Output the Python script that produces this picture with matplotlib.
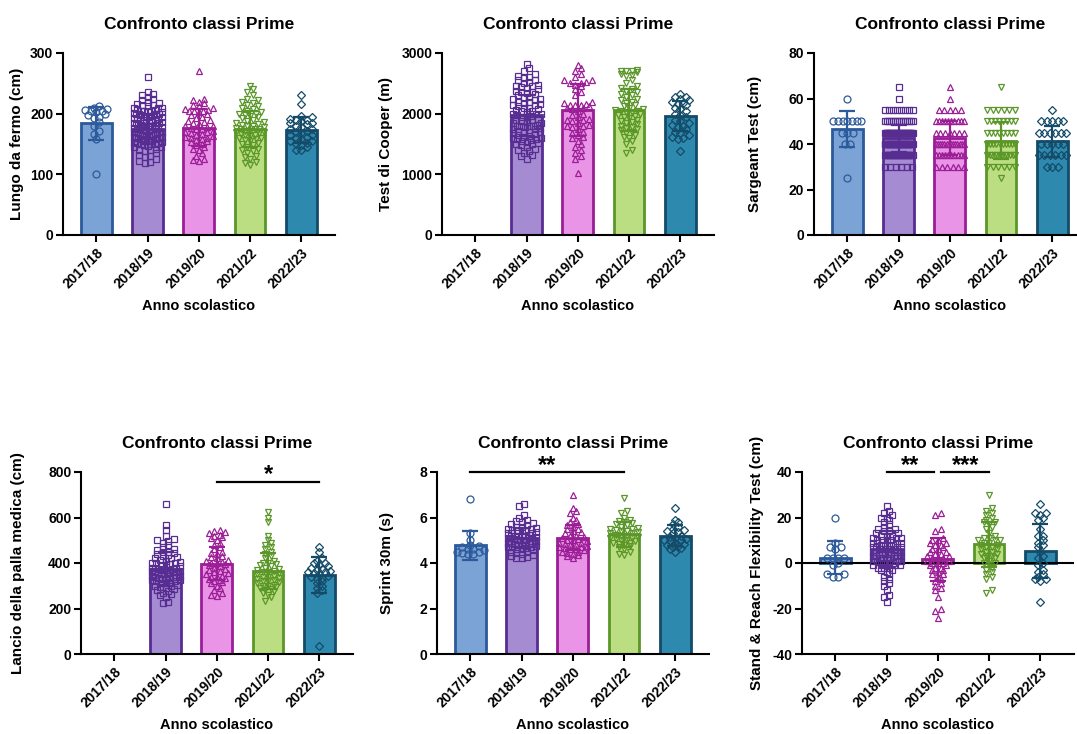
import numpy as np
import matplotlib
matplotlib.use('Agg')
import matplotlib.pyplot as plt

plt.rcParams['font.family'] = ['Liberation Sans', 'DejaVu Sans']
plt.rcParams['font.weight'] = 'bold'
plt.rcParams['axes.labelweight'] = 'bold'
plt.rcParams['axes.titleweight'] = 'bold'
plt.rcParams['axes.unicode_minus'] = False

# ---------------- categories / styles ----------------
years = ['2017/18', '2018/19', '2019/20', '2021/22', '2022/23']
fill_colors = ['#7BA3D6', '#A58CD2', '#E994E6', '#BBDE82', '#2E89AF']
edge_colors = ['#2C5A9A', '#582D91', '#9B1E96', '#5A9628', '#144B69']
markers = ['o', 's', '^', 'v', 'D']
title = 'Confronto classi Prime'
xlabel = 'Anno scolastico'

# ---------------- Panel 1: Lungo da fermo (cm) ----------------
lungo_1718 = [100, 158, 166, 172, 180, 186, 193, 195, 197, 199, 202, 204, 205, 206, 208, 210, 212]
lungo_1819 = [260, 236, 232, 230, 228, 225, 222, 220, 218, 216, 215, 214, 212, 210, 210, 209, 208, 206,
              205, 205, 204, 203, 202, 201, 200, 200, 200, 199, 198, 197, 196, 195, 195, 195, 194, 193,
              192, 191, 190, 190, 190, 189, 188, 187, 186, 185, 185, 185, 184, 183, 182, 181, 180, 180,
              180, 180, 179, 178, 177, 176, 175, 175, 175, 174, 173, 172, 171, 170, 170, 170, 170, 169,
              168, 167, 166, 165, 165, 165, 165, 164, 163, 162, 161, 160, 160, 160, 160, 159, 158, 157,
              156, 155, 155, 155, 154, 153, 152, 151, 150, 150, 150, 148, 147, 145, 145, 142, 140, 140,
              138, 135, 132, 130, 128, 125, 122, 120, 118]
lungo_1920 = [270, 225, 222, 220, 218, 215, 212, 210, 208, 206, 205, 205, 204, 203, 200, 198, 195, 193,
              190, 188, 186, 185, 183, 180, 180, 178, 176, 175, 174, 172, 170, 170, 168, 166, 165, 163,
              162, 160, 160, 158, 156, 155, 153, 150, 148, 145, 142, 140, 135, 130, 125, 123, 122]
lungo_2122 = [245, 240, 235, 230, 225, 222, 220, 218, 215, 212, 210, 208, 205, 203, 200, 200, 198, 196,
              195, 193, 190, 188, 186, 185, 183, 182, 180, 180, 178, 176, 175, 175, 174, 172, 172, 170,
              170, 168, 166, 165, 165, 163, 160, 160, 158, 156, 155, 152, 150, 148, 145, 142, 140, 138,
              135, 130, 128, 125, 120, 118, 115]
lungo_2223 = [230, 216, 196, 195, 192, 190, 190, 188, 185, 185, 183, 180, 178, 175, 175, 172, 170, 168,
              165, 165, 162, 160, 158, 155, 155, 152, 150, 148, 145, 140, 140]
lungo_means = [184, 175, 177, 175, 173]
lungo_sds = [27, 25, 30, 30, 22]

# ---------------- Panel 2: Test di Cooper (m) ----------------
cooper_1718 = []
cooper_1819 = [2820, 2750, 2700, 2650, 2620, 2600, 2580, 2560, 2550, 2520, 2500, 2480, 2460, 2450, 2440,
               2420, 2400, 2380, 2360, 2350, 2340, 2320, 2300, 2280, 2260, 2250, 2240, 2220, 2200, 2200,
               2180, 2160, 2150, 2140, 2120, 2100, 2100, 2080, 2060, 2050, 2040, 2020, 2000, 2000, 1990,
               1980, 1960, 1950, 1940, 1920, 1900, 1900, 1880, 1860, 1850, 1840, 1820, 1800, 1800, 1800,
               1790, 1780, 1760, 1750, 1740, 1720, 1700, 1700, 1690, 1680, 1660, 1650, 1640, 1620, 1600,
               1600, 1590, 1580, 1560, 1550, 1540, 1520, 1500, 1500, 1480, 1450, 1420, 1400, 1380, 1350,
               1320, 1300, 1250]
cooper_1920 = [2800, 2750, 2700, 2650, 2600, 2550, 2550, 2520, 2500, 2500, 2480, 2450, 2400, 2350, 2300,
               2200, 2180, 2160, 2150, 2150, 2140, 2120, 2100, 2100, 2080, 2050, 2000, 1980, 1950, 1920,
               1900, 1900, 1880, 1850, 1820, 1800, 1800, 1780, 1750, 1700, 1680, 1650, 1620, 1600, 1550,
               1500, 1450, 1400, 1350, 1300, 1250, 1020]
cooper_2122 = [2720, 2710, 2700, 2700, 2690, 2650, 2640, 2620, 2550, 2500, 2450, 2420, 2400, 2380, 2350,
               2320, 2300, 2280, 2250, 2220, 2200, 2180, 2150, 2120, 2100, 2080, 2060, 2050, 2040, 2030,
               2020, 2000, 1980, 1960, 1950, 1930, 1900, 1880, 1860, 1850, 1830, 1800, 1780, 1760, 1750,
               1730, 1700, 1680, 1650, 1620, 1600, 1550, 1500, 1400, 1350]
cooper_2223 = [2330, 2280, 2270, 2250, 2230, 2200, 2180, 2160, 2150, 2100, 2080, 2050, 2000, 1980, 1950,
               1900, 1880, 1850, 1820, 1800, 1780, 1750, 1700, 1680, 1650, 1620, 1600, 1580, 1380]
cooper_means = [None, 1970, 2060, 2060, 1960]
cooper_sds = [None, 330, 430, 350, 250]

# ---------------- Panel 3: Sargeant Test (cm) — discrete levels with counts ----------------
sarg_levels = [25, 30, 35, 40, 45, 50, 55, 60, 65]
sarg_counts_1718 = [1, 0, 0, 2, 3, 7, 0, 1, 0]
sarg_counts_1819 = [0, 6, 25, 35, 30, 15, 8, 1, 1]
sarg_counts_1920 = [0, 6, 10, 14, 7, 10, 5, 1, 1]
sarg_counts_2122 = [1, 6, 12, 10, 8, 8, 6, 0, 1]
sarg_counts_2223 = [0, 3, 6, 5, 6, 5, 1, 0, 0]
sarg_means = [46.5, 42.5, 42.5, 41.5, 41.2]
sarg_sds = [7.8, 6.0, 7.5, 8.2, 6.8]

# ---------------- Panel 4: Lancio della palla medica (cm) ----------------
lancio_1718 = []
lancio_1819 = [660, 565, 545, 520, 505, 500, 495, 490, 480, 470, 460, 455, 450, 450, 445, 440, 435, 430,
               425, 420, 420, 415, 410, 405, 400, 400, 400, 395, 390, 390, 385, 380, 380, 380, 375, 375,
               370, 370, 370, 365, 365, 360, 360, 360, 355, 355, 350, 350, 350, 345, 345, 340, 340, 340,
               335, 335, 330, 330, 325, 325, 320, 320, 315, 310, 310, 305, 300, 300, 295, 290, 285, 280,
               275, 270, 265, 260, 250, 230, 222]
lancio_1920 = [545, 540, 535, 530, 525, 520, 515, 510, 500, 490, 480, 470, 460, 450, 445, 440, 430, 425,
               420, 415, 410, 405, 400, 400, 395, 390, 385, 380, 375, 370, 365, 360, 355, 350, 345, 340,
               340, 335, 330, 325, 320, 315, 310, 300, 290, 280, 270, 260, 255]
lancio_2122 = [625, 600, 580, 520, 500, 490, 480, 470, 460, 450, 440, 430, 420, 410, 400, 400, 395, 390,
               385, 380, 375, 370, 365, 360, 360, 355, 350, 345, 340, 340, 335, 330, 325, 320, 320, 315,
               310, 305, 300, 300, 295, 290, 285, 280, 275, 270, 260, 250, 235]
lancio_2223 = [470, 450, 420, 410, 400, 400, 390, 385, 380, 375, 370, 365, 360, 360, 355, 350, 345, 340,
               335, 330, 320, 310, 300, 290, 280, 270, 35]
lancio_means = [None, 372, 397, 365, 347]
lancio_sds = [None, 75, 73, 80, 81]

# ---------------- Panel 5: Sprint 30m (s) ----------------
sprint_1718 = [6.8, 5.3, 5.0, 4.8, 4.75, 4.7, 4.6, 4.55, 4.5, 4.5, 4.45, 4.4, 4.4, 4.6]
sprint_1819 = [6.6, 6.5, 6.1, 6.0, 5.9, 5.85, 5.8, 5.75, 5.7, 5.65, 5.6, 5.6, 5.55, 5.5, 5.5, 5.45, 5.4,
               5.4, 5.4, 5.35, 5.3, 5.3, 5.3, 5.25, 5.2, 5.2, 5.2, 5.2, 5.15, 5.1, 5.1, 5.1, 5.1, 5.05,
               5.0, 5.0, 5.0, 5.0, 4.95, 4.9, 4.9, 4.9, 4.9, 4.85, 4.8, 4.8, 4.8, 4.75, 4.7, 4.7, 4.7,
               4.65, 4.6, 4.6, 4.55, 4.5, 4.5, 4.45, 4.4, 4.35, 4.3, 4.25, 4.2, 4.2]
sprint_1920 = [7.0, 6.4, 6.3, 6.2, 6.0, 5.9, 5.8, 5.7, 5.65, 5.6, 5.5, 5.5, 5.4, 5.35, 5.3, 5.2, 5.2,
               5.15, 5.1, 5.05, 5.0, 5.0, 4.95, 4.9, 4.9, 4.85, 4.8, 4.8, 4.75, 4.7, 4.7, 4.65, 4.6, 4.6,
               4.55, 4.5, 4.5, 4.45, 4.4, 4.35, 4.3, 4.2]
sprint_2122 = [6.85, 6.3, 6.2, 6.0, 5.9, 5.85, 5.8, 5.75, 5.7, 5.65, 5.6, 5.55, 5.5, 5.5, 5.45, 5.4, 5.4,
               5.35, 5.3, 5.3, 5.25, 5.2, 5.2, 5.15, 5.1, 5.1, 5.05, 5.0, 5.0, 4.95, 4.9, 4.9, 4.85, 4.8,
               4.75, 4.7, 4.6, 4.5, 4.4, 4.35]
sprint_2223 = [6.4, 5.9, 5.8, 5.7, 5.6, 5.5, 5.45, 5.4, 5.35, 5.3, 5.2, 5.15, 5.1, 5.05, 5.0, 5.0, 4.95,
               4.9, 4.85, 4.8, 4.75, 4.7, 4.65, 4.6, 4.5]
sprint_means = [4.78, 5.1, 5.1, 5.27, 5.2]
sprint_sds = [0.63, 0.42, 0.55, 0.55, 0.45]

# ---------------- Panel 6: Stand & Reach Flexibility Test (cm) ----------------
sr_1718 = [20, 9, 7, 7, 6, 2, 2, 2, 2, 0, -1, -5, -5, -6, -6]
sr_1819 = [25, 23, 22, 21, 20, 20, 19, 18, 17, 16, 15, 15, 14, 14, 13, 13, 12, 12, 12, 11, 11, 11, 10,
           10, 10, 10, 9, 9, 9, 9, 8, 8, 8, 8, 7, 7, 7, 7, 6, 6, 6, 6, 6, 5, 5, 5, 5, 5, 4, 4, 4, 4, 4,
           3, 3, 3, 3, 3, 2, 2, 2, 2, 1, 1, 1, 1, 0, 0, 0, 0, -1, -1, -1, -2, -2, -2, -3, -3, -4, -5,
           -6, -7, -8, -9, -10, -12, -14, -15, -17]
sr_1920 = [22, 21, 15, 14, 11, 10, 10, 9, 9, 8, 8, 7, 6, 6, 5, 5, 4, 4, 3, 3, 2, 2, 2, 1, 1, 0, 0, 0,
           -1, -1, -2, -2, -3, -3, -4, -5, -5, -6, -7, -8, -9, -10, -11, -12, -15, -20, -21, -24]
sr_2122 = [30, 24, 23, 22, 21, 20, 19, 18, 18, 17, 16, 15, 13, 12, 11, 11, 10, 10, 10, 9, 9, 8, 8, 7,
           7, 6, 6, 5, 5, 4, 4, 3, 3, 2, 2, 1, 0, 0, -1, -2, -3, -4, -5, -6, -7, -12, -13]
sr_2223 = [26, 22, 22, 21, 20, 19, 15, 12, 12, 10, 9, 8, 7, 5, 3, 2, 0, -1, -3, -4, -5, -6, -7, -7, -8, -17]
sr_means = [2.4, 6.0, 1.6, 8.2, 5.3]
sr_sds = [7.3, 8.0, 9.5, 10.0, 11.7]


def expand(levels, counts):
    return list(np.repeat(levels, counts))


panels = [
    dict(data=[lungo_1718, lungo_1819, lungo_1920, lungo_2122, lungo_2223], means=lungo_means, sds=lungo_sds,
         ylabel='Lungo da fermo (cm)', ylim=(0, 300), yticks=[0, 100, 200, 300],
         pos=(63, 53), ylab_x=-0.145, sig=[]),
    dict(data=[cooper_1718, cooper_1819, cooper_1920, cooper_2122, cooper_2223], means=cooper_means,
         sds=cooper_sds, ylabel='Test di Cooper (m)', ylim=(0, 3000), yticks=[0, 1000, 2000, 3000],
         pos=(442, 53), ylab_x=-0.18, sig=[]),
    dict(data=[expand(sarg_levels, c) for c in [sarg_counts_1718, sarg_counts_1819, sarg_counts_1920,
                                                sarg_counts_2122, sarg_counts_2223]],
         means=sarg_means, sds=sarg_sds, ylabel='Sargeant Test (cm)', ylim=(0, 80),
         yticks=[0, 20, 40, 60, 80], pos=(814, 53), ylab_x=-0.19, sig=[]),
    dict(data=[lancio_1718, lancio_1819, lancio_1920, lancio_2122, lancio_2223], means=lancio_means,
         sds=lancio_sds, ylabel='Lancio della palla medica (cm)', ylim=(0, 800),
         yticks=[0, 200, 400, 600, 800], pos=(81, 472), ylab_x=-0.205,
         sig=[(2, 4, 756, '*', 762)]),
    dict(data=[sprint_1718, sprint_1819, sprint_1920, sprint_2122, sprint_2223], means=sprint_means,
         sds=sprint_sds, ylabel='Sprint 30m (s)', ylim=(0, 8), yticks=[0, 2, 4, 6, 8],
         pos=(437, 472), ylab_x=-0.16, sig=[(0, 3, 8.0, '**', 7.98)]),
    dict(data=[sr_1718, sr_1819, sr_1920, sr_2122, sr_2223], means=sr_means, sds=sr_sds,
         ylabel='Stand & Reach Flexibility Test (cm)', ylim=(-40, 40), yticks=[-40, -20, 0, 20, 40],
         pos=(802, 472), ylab_x=-0.14,
         sig=[(1, 1.92, 40, '**', 39.8), (2.07, 3, 40, '***', 39.8)]),
]

W, H = 1077, 734
SP = 51.25          # px per category
AX_W = 5.3 * SP     # axes width in px
AX_H = 182          # axes height in px


def swarm_offsets(vals, y_px_per_unit, row_px=4.5, pt_px=5.5, max_px=28):
    v = np.asarray(vals, float)
    offs = np.zeros(len(v))
    if len(v) == 0:
        return offs
    order = np.argsort(v, kind='stable')
    sv = v[order]
    rows, cur, start = [], [0], sv[0]
    for i in range(1, len(sv)):
        if (sv[i] - start) * y_px_per_unit < row_px:
            cur.append(i)
        else:
            rows.append(cur)
            cur, start = [i], sv[i]
    rows.append(cur)
    for r in rows:
        n = len(r)
        sp = min(pt_px, max_px / (n - 1)) if n > 1 else 0.0
        pos = (np.arange(n) - (n - 1) / 2) * sp
        slots = sorted(range(n), key=lambda k: (abs(pos[k]), pos[k]))
        for j, k in enumerate(slots):
            offs[order[r[j]]] = pos[k] / SP
    return offs


fig = plt.figure(figsize=(W / 100, H / 100), dpi=100)
x = np.arange(len(years))

for p in panels:
    l, t = p['pos']
    ax = fig.add_axes([l / W, 1 - (t + AX_H) / H, AX_W / W, AX_H / H])
    y0, y1 = p['ylim']
    ypx = AX_H / (y1 - y0)
    for i in range(len(years)):
        m = p['means'][i]
        if m is None:
            continue
        ax.bar(x[i], m, width=0.6, color=fill_colors[i], edgecolor=edge_colors[i], linewidth=2.0, zorder=2)
        vals = p['data'][i]
        offs = swarm_offsets(vals, ypx)
        ms = 3.6 if markers[i] == 'D' else 5.0
        ax.plot(x[i] + offs, vals, linestyle='none', marker=markers[i], markersize=ms,
                markerfacecolor='none', markeredgecolor=edge_colors[i], markeredgewidth=0.9,
                zorder=3, clip_on=False)
        ax.errorbar(x[i], m, yerr=p['sds'][i], fmt='none', ecolor=edge_colors[i], elinewidth=1.6,
                    capsize=6.1, capthick=1.6, zorder=4)
    if y0 < 0:
        ax.axhline(0, color='black', linewidth=1.5, zorder=2.5)
    for (a, b, yl, txt, ys) in p['sig']:
        ax.plot([a, b], [yl, yl], color='black', linewidth=1.6, clip_on=False, zorder=5)
        ax.text((a + b) / 2, ys, txt, ha='center', va='baseline', fontsize=17,
                fontweight='bold', clip_on=False)
    ax.set_xlim(-0.65, 4.65)
    ax.set_ylim(y0, y1)
    ax.set_yticks(p['yticks'])
    ax.set_xticks(x)
    ax.set_xticklabels(years, rotation=45, ha='right', va='top', rotation_mode='anchor')
    for s in ['top', 'right']:
        ax.spines[s].set_visible(False)
    for s in ['left', 'bottom']:
        ax.spines[s].set_linewidth(1.5)
    ax.tick_params(axis='both', direction='out', length=5, width=1.5, labelsize=10)
    ax.tick_params(axis='y', pad=2)
    ax.tick_params(axis='x', pad=3)
    ax.set_title(title, fontsize=12.5, pad=17)
    ax.set_ylabel(p['ylabel'], fontsize=11)
    ax.yaxis.set_label_coords(p['ylab_x'], 0.5)
    ax.set_xlabel(xlabel, fontsize=10.5)
    ax.xaxis.set_label_coords(0.5, -0.35)

fig.savefig('out.png', dpi=100)
